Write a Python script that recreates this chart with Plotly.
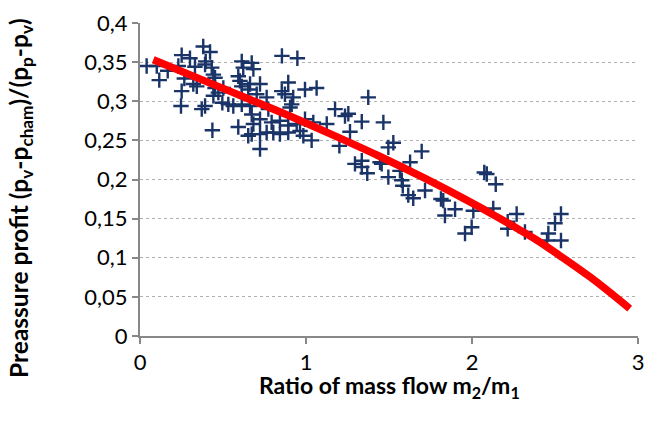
import plotly.graph_objects as go

# measured points (ratio of mass flow, pressure profit)
ratio = [0.040, 0.101, 0.116, 0.167, 0.231, 0.251, 0.301, 0.267, 0.251, 0.247,
         0.331, 0.321, 0.342, 0.381, 0.422, 0.392, 0.396, 0.432, 0.442, 0.372,
         0.392, 0.436, 0.452, 0.452, 0.442, 0.472, 0.502, 0.496, 0.532, 0.562,
         0.592, 0.613, 0.622, 0.602, 0.613, 0.673, 0.683, 0.663, 0.652, 0.723,
         0.703, 0.613, 0.663, 0.673, 0.683, 0.592, 0.673, 0.652, 0.723, 0.763,
         0.803, 0.843, 0.723, 0.763, 0.723, 0.773, 0.855, 0.854, 0.843, 0.793,
         0.948, 0.893, 0.994, 1.064, 0.873, 0.923, 0.914, 0.904, 0.893, 0.944,
         0.994, 1.044, 1.125, 0.964, 0.984, 1.034, 0.893, 1.175, 1.235, 1.255,
         1.375, 1.336, 1.466, 1.265, 1.201, 1.526, 1.496, 1.697, 1.295, 1.336,
         1.336, 1.369, 1.446, 1.456, 1.496, 1.566, 1.577, 1.583, 1.627, 1.616,
         1.646, 1.717, 1.813, 1.827, 1.837, 1.898, 2.008, 2.074, 2.089, 2.143,
         2.128, 1.998, 1.958, 2.215, 2.269, 2.215, 2.319, 2.460, 2.500, 2.536,
         2.452, 2.536]
profit = [0.345, 0.345, 0.327, 0.339, 0.345, 0.359, 0.355, 0.329, 0.313, 0.294,
          0.344, 0.322, 0.319, 0.370, 0.363, 0.347, 0.351, 0.343, 0.334, 0.290,
          0.294, 0.263, 0.330, 0.317, 0.307, 0.311, 0.317, 0.298, 0.296, 0.294,
          0.332, 0.351, 0.343, 0.326, 0.319, 0.349, 0.341, 0.322, 0.315, 0.322,
          0.309, 0.296, 0.294, 0.283, 0.271, 0.267, 0.258, 0.256, 0.258, 0.260,
          0.260, 0.258, 0.239, 0.305, 0.277, 0.290, 0.358, 0.313, 0.275, 0.273,
          0.355, 0.324, 0.315, 0.317, 0.309, 0.305, 0.296, 0.292, 0.269, 0.271,
          0.277, 0.273, 0.271, 0.262, 0.256, 0.250, 0.260, 0.290, 0.281, 0.284,
          0.305, 0.274, 0.273, 0.261, 0.243, 0.247, 0.241, 0.236, 0.220, 0.224,
          0.216, 0.208, 0.222, 0.220, 0.203, 0.211, 0.199, 0.192, 0.222, 0.180,
          0.176, 0.186, 0.175, 0.173, 0.154, 0.162, 0.160, 0.209, 0.207, 0.194,
          0.163, 0.139, 0.131, 0.146, 0.156, 0.137, 0.133, 0.131, 0.144, 0.156,
          0.122, 0.122]

# trend curve
trend_x = [0.08, 0.47, 0.87, 1.15, 1.43, 1.72, 1.92, 2.12, 2.26, 2.38, 2.52, 2.72, 2.95]
trend_y = [0.353, 0.319, 0.284, 0.258, 0.231, 0.201, 0.179, 0.156, 0.139, 0.124, 0.104, 0.074, 0.035]

x_title = "<b>Ratio of mass flow m<sub>2</sub>/m<sub>1</sub></b>"
y_title = "<b>Preassure profit (p<sub>v</sub>-p<sub>cham</sub>)/(p<sub>p</sub>-p<sub>v</sub>)</b>"

fig = go.Figure()
fig.add_trace(go.Scatter(x=ratio, y=profit, mode="markers",
                         marker=dict(symbol="cross-thin", size=11,
                                     line=dict(color="#1a3468", width=2.4))))
fig.add_trace(go.Scatter(x=trend_x, y=trend_y, mode="lines",
                         line=dict(color="#ff0000", width=7.5, shape="spline")))

axis_font = dict(family="Lato", size=22, color="black")
# the page body adds 8px around the figure, so the figure is 8px smaller
fig.update_layout(
    width=662, height=418,
    plot_bgcolor="white", paper_bgcolor="white",
    showlegend=False,
    separators=",.",
    margin=dict(l=132, r=32, t=15, b=90, autoexpand=False),
    font=dict(family="Lato", size=22, color="black"),
    xaxis=dict(range=[0, 3], dtick=1, showgrid=False, zeroline=False,
               showline=True, linecolor="#888888", linewidth=2,
               ticks="outside", ticklen=6, tickcolor="#888888", tickwidth=2,
               tickfont=axis_font, automargin=False),
    yaxis=dict(range=[0, 0.4], dtick=0.05, showgrid=True, gridcolor="#b0b0b0",
               griddash="dot", gridwidth=1, zeroline=False,
               showline=True, linecolor="#888888", linewidth=2,
               ticks="outside", ticklen=6, tickcolor="#888888", tickwidth=2,
               tickfont=axis_font, automargin=False),
)
fig.add_annotation(text=x_title, xref="paper", yref="paper", x=0.5, y=-0.162,
                   xanchor="center", yanchor="middle", showarrow=False,
                   font=dict(family="Lato", size=23, color="black"))
fig.add_annotation(text=y_title, xref="paper", yref="paper", x=-0.239, y=0.441,
                   xanchor="center", yanchor="middle", showarrow=False, textangle=-90,
                   font=dict(family="Lato", size=24.5, color="black"))

fig.write_html("out.html")
